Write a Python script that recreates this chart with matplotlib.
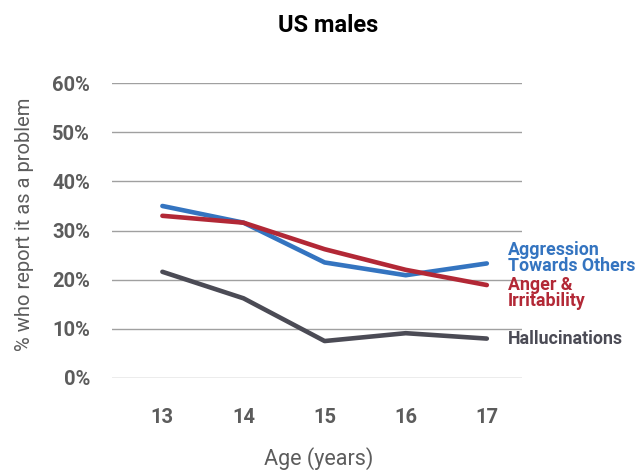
import matplotlib
matplotlib.use("Agg")
import matplotlib.pyplot as plt

plt.rcParams['font.family'] = ['Roboto', 'DejaVu Sans']

# ages and % who report it as a problem (US males)
ages = [13, 14, 15, 16, 17]
aggression = [35.0, 31.6, 23.5, 20.9, 23.3]
anger = [33.0, 31.6, 26.2, 22.0, 18.9]
hallucinations = [21.6, 16.2, 7.5, 9.1, 8.0]

series_names = ["Aggression\nTowards Others", "Anger &\nIrritability", "Hallucinations"]
series_vals = [aggression, anger, hallucinations]
colors = ["#3474c0", "#b22836", "#4b4b55"]
label_y = [24.4, 17.2, 8.0]

yticks = [0, 10, 20, 30, 40, 50, 60]
ytick_labels = ["0%", "10%", "20%", "30%", "40%", "50%", "60%"]

fig = plt.figure(figsize=(6.37, 4.70), dpi=100)
ax = fig.add_axes([0.176, 0.196, 0.643, 0.627])

for y in yticks:
    ax.axhline(y, color="#a0a0a0", lw=1.0, zorder=1)

for vals, c in zip(series_vals, colors):
    ax.plot(ages, vals, color=c, lw=3.3, solid_capstyle="round", solid_joinstyle="round", zorder=3)

for name, c, ly in zip(series_names, colors, label_y):
    ax.text(17.26, ly, name, color=c, fontsize=12.8, fontweight="bold",
            va="center", ha="left", linespacing=0.85, clip_on=False)

ax.set_xlim(12.38, 17.43)
ax.set_ylim(0, 60)
ax.set_xticks(ages)
ax.set_xticklabels([str(a) for a in ages])
ax.set_yticks(yticks)
ax.set_yticklabels(ytick_labels)
ax.tick_params(axis="both", length=0, labelsize=14.5, labelcolor="#5c5c5c")
ax.tick_params(axis="x", pad=22)
ax.tick_params(axis="y", pad=16)
for lab in ax.get_xticklabels() + ax.get_yticklabels():
    lab.set_fontweight("bold")
for s in ax.spines.values():
    s.set_visible(False)

ax.set_ylabel("% who report it as a problem", fontsize=14.5, color="#5c5c5c")
ax.yaxis.set_label_coords(-0.19, 0.52)
fig.text(0.5, 0.024, "Age (years)", fontsize=15.5, color="#5c5c5c", ha="center", va="center")
fig.text(0.515, 0.945, "US males", fontsize=17, fontweight="bold", ha="center", va="center")

fig.savefig("out.png", dpi=100)
